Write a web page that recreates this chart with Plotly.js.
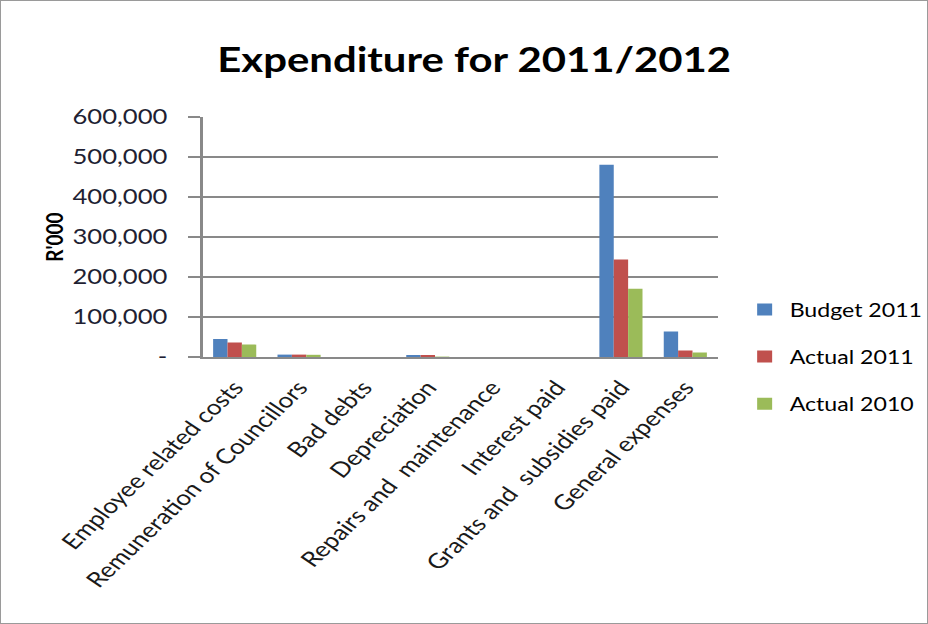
<!DOCTYPE html>
<html><head><meta charset="utf-8">
<script src="https://cdn.plot.ly/plotly-3.0.1.min.js"></script>
<style>
html,body{margin:0;padding:0;background:#fff;overflow:hidden}
#wrap{position:absolute;left:0;top:0;width:928px;height:624px;box-sizing:border-box;border:1px solid #9a9a9a}
#c{position:absolute;left:0;top:0;width:742.4px;height:624px;transform:scaleX(1.25);transform-origin:0 0}
</style>
</head><body><div id="wrap"></div><div id="c"></div>
<script>
const categories = ["Employee related costs","Remuneration of Councillors","Bad debts","Depreciation","Repairs and  maintenance","Interest paid","Grants and  subsidies paid","General expenses"];
const budget2011 = [45000, 6000, 0, 5000, 0, 0, 480500, 64000];
const actual2011 = [36000, 6000, 0, 5000, 0, 0, 243600, 16000];
const actual2010 = [31000, 5500, 0, 1000, 0, 0, 170600, 11000];
const seriesNames = ["Budget 2011","Actual 2011","Actual 2010"];
const yTickVals = [0,100000,200000,300000,400000,500000,600000];
const yTickText = ["-","100,000","200,000","300,000","400,000","500,000","600,000"];
const colors = ["#4f81bd","#c0504d","#9bbb59"];
const series = [budget2011, actual2011, actual2010];
const traces = series.map((s,i)=>({type:'bar',x:categories.map(c=>c.replace(/  /g,'\u00a0 ')),y:s,name:seriesNames[i],legendgroup:'g'+i,
  marker:{color:colors[i]}, hoverinfo:'skip'}));
const layout = {
  width:742.4, height:624,
  margin:{l:162.4,r:168,t:117,b:267,autoexpand:false},
  paper_bgcolor:'rgba(0,0,0,0)', plot_bgcolor:'rgba(0,0,0,0)',
  font:{family:'Lato, sans-serif', color:'#000'},
  title:{text:'<b>Expenditure for 2011/2012</b>', x:0.511, xref:'container', y:0.904, yref:'container', yanchor:'middle', xanchor:'center', font:{size:33.5,family:'Lato, sans-serif',color:'#000'}},
  barmode:'group', bargap:0.33, bargroupgap:0,
  xaxis:{type:'category', tickangle:-50, tickfont:{size:21,family:'Lato, sans-serif',color:'#1a1a1a'}, ticklabelstandoff:8, showline:true, linecolor:'#898989', linewidth:2, ticks:'', showgrid:false},
  yaxis:{range:[0,600000], tickvals:yTickVals, ticktext:yTickText, tickfont:{size:20.5,family:'Lato, sans-serif',color:'#1f1f33'}, showline:true, linecolor:'#898989', linewidth:2, ticks:'outside', ticklen:10, tickcolor:'#898989', tickwidth:2, ticklabelstandoff:12, gridcolor:'#898989', gridwidth:1.5, zeroline:false,
    title:{text:'<b>R\'000</b>', font:{size:19,family:'Lato, sans-serif',color:'#000'}, standoff:2}},
  legend:{x:1.043, xanchor:'left', y:0.0, yanchor:'middle', traceorder:'grouped', tracegroupgap:20, font:{size:18.5,family:'Lato, sans-serif',color:'#000'}, bgcolor:'rgba(0,0,0,0)'},
  showlegend:true
};
Plotly.newPlot('c', traces, layout, {displayModeBar:false, staticPlot:true});
</script></body></html>
